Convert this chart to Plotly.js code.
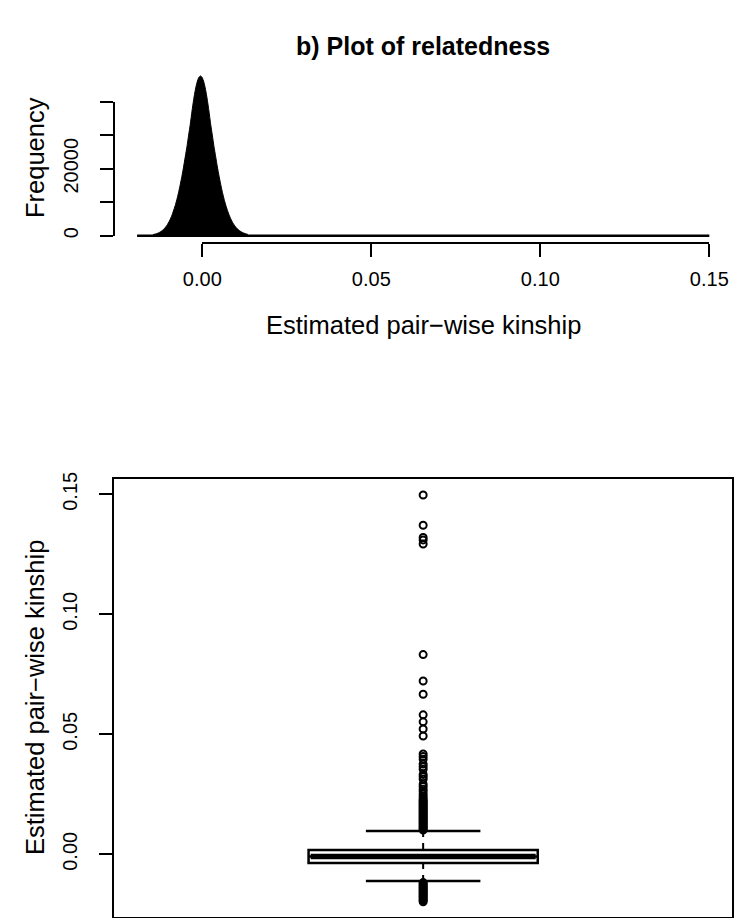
<!DOCTYPE html>
<html>
<head>
<meta charset="utf-8">
<script src="https://cdn.plot.ly/plotly-3.0.1.min.js"></script>
<style>html,body{margin:0;padding:0;background:#fff;}#chart{width:736px;height:918px;}</style>
</head>
<body>
<div id="chart"></div>
<script>
// ---------------- data ----------------
// histogram of estimated pair-wise kinship (bins of width 0.0005)
const histBinStart = -0.0148;
const histBinWidth = 0.0005;
const histCounts = [
  330, 470, 610, 800, 1060, 1390, 1810, 2340, 2990, 3790, 4780, 5950, 7360, 8900,
  10720, 12790, 15160, 17680, 20470, 23530, 26560, 30020, 33370, 37210, 40690, 43620, 45830, 47220,
  47700,
  47240, 45860, 43660, 40740, 37260, 33420, 30090, 26640, 23620, 20560, 17790, 15290, 12930, 10880,
  9080, 7540, 6130, 4960, 3970, 3160, 2500, 1970, 1540, 1200, 930, 710, 540, 410
];
const histBreaksRange = [-0.0193, 0.15];

const kinTickVals = [0, 0.05, 0.10, 0.15];
const kinTickText = ['0.00', '0.05', '0.10', '0.15'];
const freqTickVals = [0, 10000, 20000, 30000, 40000];
const freqTickText = ['0', '', '20000', '', ''];

// boxplot statistics
const boxCategory = [1];
const boxQ1 = -0.0036;
const boxMedian = -0.0009;
const boxQ3 = 0.0018;
const whiskerLow = -0.0111;
const whiskerHigh = 0.0097;
const upperOutliers = [
  0.1497, 0.1371, 0.1320, 0.1310, 0.1293, 0.0832, 0.0722, 0.0667,
  0.0581, 0.0552, 0.0522, 0.0493,
  0.0418, 0.0407, 0.0396, 0.0376, 0.0365, 0.0354, 0.0333, 0.0323, 0.0313, 0.0292, 0.0282,
  0.0271, 0.0262, 0.0251, 0.0242, 0.0233,
  0.0226, 0.0221, 0.0216, 0.0211, 0.0206, 0.0201, 0.0196, 0.0191, 0.0186, 0.0181, 0.0176,
  0.0171, 0.0166, 0.0161, 0.0156, 0.0151, 0.0146, 0.0141, 0.0136, 0.0131, 0.0126, 0.0121,
  0.0116, 0.0111, 0.0106, 0.0101
];
const lowerOutliers = [
  -0.0118, -0.0123, -0.0128, -0.0133, -0.0138, -0.0143, -0.0148, -0.0153, -0.0158,
  -0.0163, -0.0168, -0.0173, -0.0178, -0.0183, -0.0188, -0.0193, -0.0198
];

const titleText = '<b>b) Plot of relatedness</b>';
const kinLabel = 'Estimated pair\u2212wise kinship';
const freqLabel = 'Frequency';

// ---------------- layout helpers ----------------
const W = 736, H = 918;
const fx = p => p / W;
const fy = p => 1 - p / H;
const FONT = 'Liberation Sans, Arial, Helvetica, sans-serif';

const histX = histCounts.map((_, i) => histBinStart + (i + 0.5) * histBinWidth);
const allOutliers = upperOutliers.concat(lowerOutliers);
const c = boxCategory[0];

const boxWidthUnits = 0.371;
const boxPx = 229;

const traces = [
  { type: 'scatter', mode: 'lines', x: histX, y: histCounts, fill: 'tozeroy',
    fillcolor: 'black', line: { color: 'black', width: 1, shape: 'spline', smoothing: 0.6 },
    xaxis: 'x', yaxis: 'y', hoverinfo: 'skip' },
  { type: 'scatter', mode: 'lines', x: histBreaksRange, y: [0, 0],
    line: { color: 'black', width: 2.5 }, xaxis: 'x', yaxis: 'y', hoverinfo: 'skip' },
  { type: 'scatter', mode: 'markers', x: [null], y: [null], xaxis: 'x2', yaxis: 'y2', hoverinfo: 'skip' },

  { type: 'box', x: boxCategory, q1: [boxQ1], median: [boxMedian], q3: [boxQ3],
    lowerfence: [boxQ1], upperfence: [boxQ3], width: boxWidthUnits, whiskerwidth: 0,
    fillcolor: 'white', line: { color: 'black', width: 2.5 }, boxpoints: false,
    xaxis: 'x3', yaxis: 'y3', hoverinfo: 'skip' },
  { type: 'scatter', mode: 'lines', x: [c, c, null, c, c],
    y: [whiskerHigh, boxQ3, null, whiskerLow, boxQ1],
    line: { color: 'black', width: 2, dash: '6px,6px' }, xaxis: 'x3', yaxis: 'y3', hoverinfo: 'skip' },
  { type: 'scatter', mode: 'markers', x: [c, c], y: [whiskerHigh, whiskerLow],
    marker: { symbol: 'line-ew', size: (boxPx / 2) / 1.4, color: 'black', line: { color: 'black', width: 2.5 } },
    xaxis: 'x3', yaxis: 'y3', hoverinfo: 'skip' },
  { type: 'scatter', mode: 'markers', x: [c], y: [boxMedian],
    marker: { symbol: 'line-ew', size: (boxPx - 4) / 1.4, color: 'black', line: { color: 'black', width: 5.5 } },
    xaxis: 'x3', yaxis: 'y3', hoverinfo: 'skip' },
  { type: 'scatter', mode: 'markers', x: allOutliers.map(() => c), y: allOutliers,
    marker: { symbol: 'circle-open', size: 7, color: 'black', line: { color: 'black', width: 2 } },
    xaxis: 'x3', yaxis: 'y3', hoverinfo: 'skip' }
];

const axisCommon = {
  showgrid: false, zeroline: false, showline: true, linecolor: 'black', linewidth: 2,
  ticks: 'outside', tickcolor: 'black', tickwidth: 2, ticklen: 13,
  tickfont: { family: FONT, size: 20, color: 'black' }, fixedrange: true
};

const layout = {
  width: W, height: H,
  margin: { l: 0, r: 0, t: 0, b: 0, pad: 0 },
  paper_bgcolor: 'white', plot_bgcolor: 'rgba(0,0,0,0)',
  showlegend: false,
  font: { family: FONT, color: 'black' },
  // histogram data axes (hidden)
  xaxis: { domain: [fx(114.3), fx(732.2)], range: [-0.02604, 0.15677], visible: false, fixedrange: true },
  yaxis: { domain: [fy(242.7), fy(69)], range: [-2090, 49760], visible: false, fixedrange: true },
  // visible axes of histogram
  xaxis2: Object.assign({}, axisCommon, {
    domain: [fx(202.3), fx(709.3)], range: [0, 0.15], anchor: 'free', position: fy(242.7),
    tickmode: 'array', tickvals: kinTickVals, ticktext: kinTickText, ticklabelstandoff: 5
  }),
  yaxis2: Object.assign({}, axisCommon, {
    domain: [fy(235.7), fy(101.7)], range: [0, 40000], anchor: 'free', position: fx(114.3),
    tickmode: 'array', tickvals: freqTickVals, ticktext: freqTickText, tickangle: -90,
    ticklabelstandoff: 14
  }),
  // boxplot axes
  xaxis3: { domain: [fx(114.3), fx(732)], range: [0.5, 1.5], anchor: 'y3',
    showgrid: false, zeroline: false, showline: true, mirror: true, linecolor: 'black', linewidth: 2,
    ticks: '', showticklabels: false, fixedrange: true },
  yaxis3: Object.assign({}, axisCommon, {
    domain: [fy(917), fy(479.3)], range: [-0.026125, 0.15625], anchor: 'x3', mirror: true,
    tickmode: 'array', tickvals: kinTickVals, ticktext: kinTickText, tickangle: -90,
    ticklabelstandoff: 14
  }),
  annotations: [
    { text: titleText, xref: 'paper', yref: 'paper', x: fx(423.2), y: fy(46),
      xanchor: 'center', yanchor: 'middle', showarrow: false, font: { family: FONT, size: 25 } },
    { text: kinLabel, xref: 'paper', yref: 'paper', x: fx(423.2), y: fy(325),
      xanchor: 'center', yanchor: 'middle', showarrow: false, font: { family: FONT, size: 25.5 } },
    { text: freqLabel, xref: 'paper', yref: 'paper', x: fx(35), y: fy(158), textangle: -90,
      xanchor: 'center', yanchor: 'middle', showarrow: false, font: { family: FONT, size: 25.5 } },
    { text: kinLabel, xref: 'paper', yref: 'paper', x: fx(35), y: fy(698), textangle: -90,
      xanchor: 'center', yanchor: 'middle', showarrow: false, font: { family: FONT, size: 25.5 } }
  ]
};

Plotly.newPlot('chart', traces, layout, { staticPlot: true, displayModeBar: false });
</script>
</body>
</html>
